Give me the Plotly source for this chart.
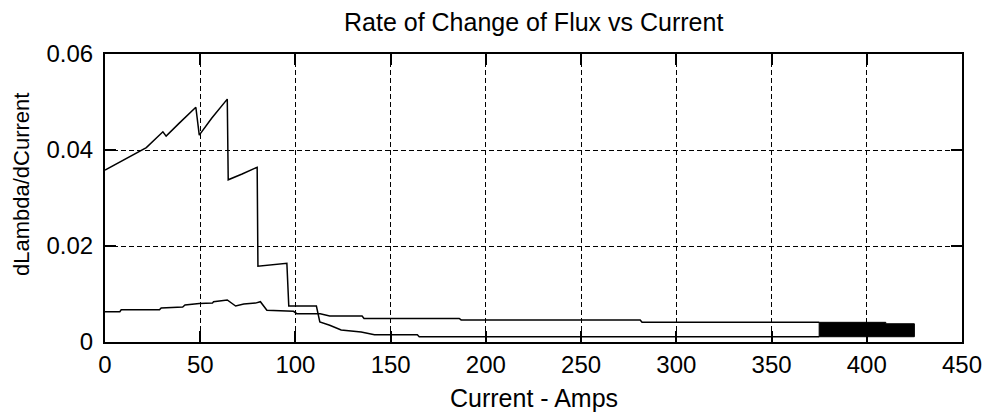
import plotly.graph_objects as go

# Curve 1: steep (high) rate-of-change curve
current_a = [0, 10, 21.7, 30.4, 32.1, 39, 47.7, 49.5, 56, 64.2, 64.7, 72, 79.9, 80.3,
             95.5, 96.5, 111, 112.8, 118, 124, 134.5, 141.5, 164, 165, 375]
dldi_a = [0.0358, 0.0380, 0.0405, 0.0438, 0.0429, 0.0456, 0.0489, 0.0431, 0.0466, 0.0506,
          0.0338, 0.0350, 0.0364, 0.0158, 0.0164, 0.0075, 0.0075, 0.0042, 0.0035, 0.0025,
          0.0021, 0.0015, 0.0015, 0.0011, 0.0011]

# Curve 2: flat (low) rate-of-change curve
current_b = [0, 7.8, 8.5, 28.6, 29.5, 40.8, 42, 49.5, 56.4, 57, 64.2, 68.6, 72.9, 79,
             81.6, 85, 99, 100.7, 113, 118, 135, 136, 186, 187, 281, 282, 375]
dldi_b = [0.0063, 0.0063, 0.0067, 0.0067, 0.0071, 0.0073, 0.0077, 0.0080, 0.0081, 0.0084,
          0.00875, 0.0075, 0.0079, 0.0081, 0.0084, 0.0066, 0.0064, 0.0059, 0.0059, 0.0054,
          0.0054, 0.0049, 0.0049, 0.0046, 0.0046, 0.0041, 0.0041]

# Dense oscillation region drawn as a solid block
block_x = [375, 410, 410, 425, 425, 375, 375]
block_y = [0.0041, 0.0041, 0.0038, 0.0038, 0.0011, 0.0011, 0.0041]

x_ticks = [0, 50, 100, 150, 200, 250, 300, 350, 400, 450]
y_ticks = [0, 0.02, 0.04, 0.06]
y_tick_text = ["0", "0.02", "0.04", "0.06"]

FONT = "Liberation Sans, Arial, sans-serif"

fig = go.Figure()
fig.add_trace(go.Scatter(x=block_x, y=block_y, mode="lines", fill="toself",
                         fillcolor="black", line=dict(color="black", width=1),
                         hoverinfo="skip", showlegend=False))
fig.add_trace(go.Scatter(x=current_a, y=dldi_a, mode="lines",
                         line=dict(color="black", width=1.5), showlegend=False))
fig.add_trace(go.Scatter(x=current_b, y=dldi_b, mode="lines",
                         line=dict(color="black", width=1.5), showlegend=False))

axis_common = dict(
    showline=True, linecolor="black", linewidth=2, mirror="ticks",
    ticks="inside", ticklen=11, tickwidth=1.5, tickcolor="black",
    showgrid=True, gridcolor="black", gridwidth=1.2, griddash="5px,3px",
    zeroline=False, tickfont=dict(family=FONT, size=24, color="black"),
)

fig.update_xaxes(range=[0, 450], tickvals=x_ticks, **axis_common)
fig.update_yaxes(range=[0, 0.06], tickvals=y_ticks, ticktext=y_tick_text,
                 ticklabelstandoff=5, **axis_common)

fig.update_layout(
    width=994, height=412,
    margin=dict(l=105, r=25, t=54, b=70),
    paper_bgcolor="white", plot_bgcolor="white",
    font=dict(family=FONT, size=24, color="black"),
    annotations=[
        dict(text="Rate of Change of Flux vs Current", xref="paper", yref="paper",
             x=0.5, y=1, yshift=32, showarrow=False, font=dict(size=25),
             xanchor="center", yanchor="middle"),
        dict(text="Current - Amps", xref="paper", yref="paper",
             x=0.5, y=0, yshift=-56, showarrow=False, font=dict(size=25),
             xanchor="center", yanchor="middle"),
        dict(text="dLambda/dCurrent", xref="paper", yref="paper",
             x=0, xshift=-84, y=0.5, yshift=13, showarrow=False, textangle=-90,
             font=dict(size=22), xanchor="center", yanchor="middle"),
    ],
)

fig.write_html("out.html")
